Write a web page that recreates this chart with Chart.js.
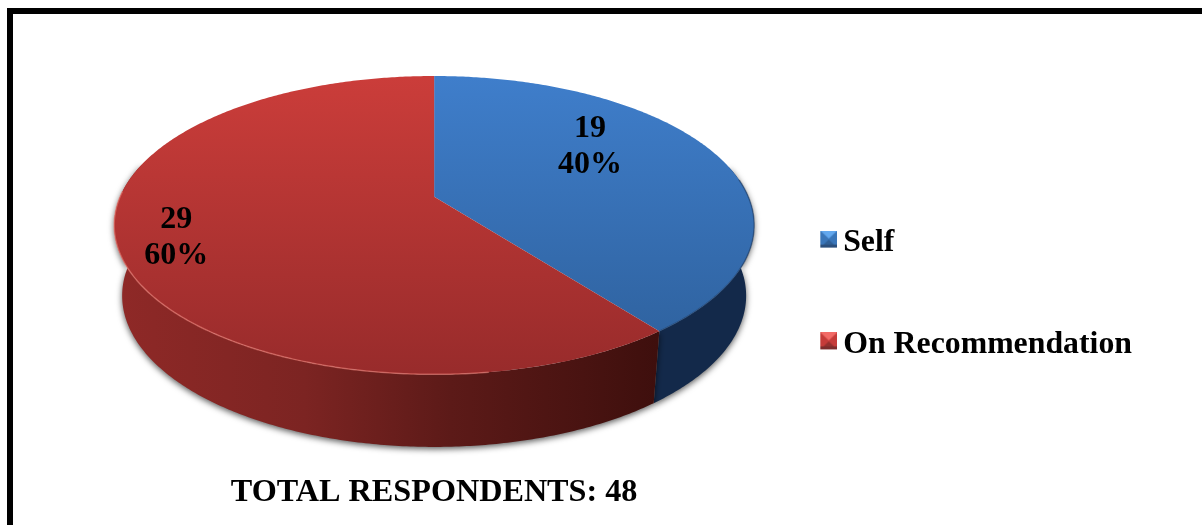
<!DOCTYPE html>
<html>
<head>
<meta charset="utf-8">
<script src="https://cdn.jsdelivr.net/npm/chart.js@4/dist/chart.umd.min.js"></script>
<style>
  html, body { margin: 0; padding: 0; background: #fff; overflow: hidden; }
  #frame { position: absolute; left: 7px; top: 8px; right: 0; bottom: 0; border-left: 6px solid #000; border-top: 6px solid #000; }
  #chart { position: absolute; left: 0; top: 0; }
</style>
</head>
<body>
<div id="frame"></div>
<canvas id="chart" width="1202" height="525"></canvas>
<script>
// data
const categories = ["Self", "On Recommendation"];
const respondents = [19, 29];
const percentLabels = ["40%", "60%"];
const chartTitle = "TOTAL RESPONDENTS: 48";

const serif = '"Liberation Serif", "Times New Roman", serif';

// look of the tilted pie, all relative to the arc radius
const widthRatio = 2.145;   // ellipse width / height
const tilt = -0.19;         // perspective, moves the apex up from the ellipse centre
const depthRatio = 0.473;
const labelSpots = [[0.487, -0.525], [-0.806, 0.085]];

// circle angle (clockwise from 12 o'clock) -> point on the tilted ellipse
function project(theta, r, e) {
  const sx = r * Math.sin(theta), sy = -r * Math.cos(theta);
  const w = 1 + tilt * sy;
  return {
    x: e.cx + e.rx * Math.sqrt(1 - tilt * tilt) * sx / w,
    y: e.cy + e.ry * (sy + tilt) / w
  };
}

function traceArc(ctx, a0, a1, e, first) {
  const n = Math.max(2, Math.ceil(Math.abs(a1 - a0) / 0.01));
  for (let i = 0; i <= n; i++) {
    const p = project(a0 + (a1 - a0) * i / n, 1, e);
    if (i === 0 && first) ctx.moveTo(p.x, p.y); else ctx.lineTo(p.x, p.y);
  }
}

// 17px bevelled square, the empty space on the canvas nudges it next to the text
function bevelIcon(top, side, bottom, low) {
  const c = document.createElement("canvas");
  c.width = 21; c.height = 25;
  const g = c.getContext("2d");
  g.translate(4, 0);
  g.fillStyle = side; g.fillRect(0, 0, 17, 17);
  g.fillStyle = top;
  g.beginPath(); g.moveTo(0, 0); g.lineTo(17, 0); g.lineTo(8.5, 8); g.closePath(); g.fill();
  g.fillStyle = bottom;
  g.beginPath(); g.moveTo(0, 17); g.lineTo(17, 17); g.lineTo(8.5, 9); g.closePath(); g.fill();
  g.fillStyle = low; g.fillRect(0, 14, 17, 3);
  return c;
}
const legendIcons = [
  bevelIcon("#63a8ee", "#3a76b9", "#2f5f96", "#2b4f7c"),
  bevelIcon("#f26a66", "#c53b39", "#93302e", "#7d2c2c")
];

const pie3d = {
  id: "pie3d",
  beforeDatasetsDraw(chart) {
    const ctx = chart.ctx;
    const arcs = chart.getDatasetMeta(0).data;
    const R = arcs[0].outerRadius;
    const top = { cx: arcs[0].x, cy: arcs[0].y, rx: R * widthRatio, ry: R };
    const base = { cx: top.cx, cy: top.cy + R * depthRatio, rx: top.rx - 8, ry: R + 2 };
    const angles = arcs.map(a => [a.startAngle + Math.PI / 2, a.endAngle + Math.PI / 2]);

    const redWall = ctx.createLinearGradient(top.cx - top.rx, 0, top.cx + top.rx * 0.7, 0);
    redWall.addColorStop(0, "#8f2927");
    redWall.addColorStop(0.35, "#7c2422");
    redWall.addColorStop(0.62, "#5c1a18");
    redWall.addColorStop(1, "#3e0f0d");
    const wallFills = ["#13294a", redWall];
    const faces = [["#3f7ecb", "#2d5f9a"], ["#cb3d3a", "#982b2b"]];

    // side walls, only the front part shows
    const from = 1.35, to = 4.95;
    ctx.save();
    ctx.shadowColor = "rgba(0,0,0,0.65)";
    ctx.shadowBlur = 6;
    ctx.shadowOffsetY = 2;
    arcs.forEach((a, i) => {
      const a0 = Math.max(angles[i][0], from), a1 = Math.min(angles[i][1], to);
      if (a1 <= a0) return;
      ctx.beginPath();
      traceArc(ctx, a0, a1, top, true);
      traceArc(ctx, a1, a0, base, false);
      ctx.closePath();
      ctx.fillStyle = wallFills[i];
      ctx.fill();
    });
    ctx.restore();

    // top faces
    const apex = project(0, 0, top);
    arcs.forEach((a, i) => {
      const grad = ctx.createLinearGradient(0, top.cy - R, 0, top.cy + R);
      grad.addColorStop(0, faces[i][0]);
      grad.addColorStop(1, faces[i][1]);
      ctx.beginPath();
      ctx.moveTo(apex.x, apex.y);
      traceArc(ctx, angles[i][0], angles[i][1], top, false);
      ctx.closePath();
      ctx.fillStyle = grad;
      ctx.fill();
    });

    // light rim on the front edge
    ctx.beginPath();
    traceArc(ctx, Math.max(angles[1][0], 3.0), 4.75, top, true);
    ctx.strokeStyle = "rgba(240,130,120,0.55)";
    ctx.lineWidth = 1.5;
    ctx.stroke();
    ctx.beginPath();
    traceArc(ctx, 1.45, angles[0][1], top, true);
    ctx.strokeStyle = "rgba(30,60,100,0.5)";
    ctx.lineWidth = 1.5;
    ctx.stroke();

    // value labels
    ctx.fillStyle = "#000";
    ctx.font = "bold 32px " + serif;
    ctx.textAlign = "center";
    ctx.textBaseline = "middle";
    arcs.forEach((a, i) => {
      const x = top.cx + labelSpots[i][0] * top.rx, y = top.cy + labelSpots[i][1] * R;
      ctx.fillText(String(respondents[i]), x, y - 18);
      ctx.fillText(percentLabels[i], x, y + 18);
    });
    return false;
  }
};

new Chart(document.getElementById("chart"), {
  type: "pie",
  data: {
    labels: categories,
    datasets: [{ data: respondents, backgroundColor: ["#3a76b9", "#c53b39"], borderWidth: 0 }]
  },
  plugins: [pie3d],
  options: {
    responsive: false,
    animation: false,
    layout: { padding: { left: 112, top: 76, right: 60, bottom: 13 } },
    plugins: {
      tooltip: { enabled: false },
      title: {
        display: true,
        text: chartTitle,
        position: "bottom",
        fullSize: false,
        color: "#000",
        font: { family: serif, size: 32.2, weight: "bold" },
        padding: { top: 99, bottom: 0 }
      },
      legend: {
        position: "right",
        labels: {
          color: "#000",
          font: { family: serif, size: 31.8, weight: "bold" },
          usePointStyle: true,
          pointStyleWidth: 1,
          padding: 70,
          generateLabels: () => categories.map((name, i) => ({
            text: name,
            fillStyle: "#000",
            strokeStyle: "#000",
            lineWidth: 0,
            pointStyle: legendIcons[i],
            index: i
          }))
        }
      }
    }
  }
});
</script>
</body>
</html>
